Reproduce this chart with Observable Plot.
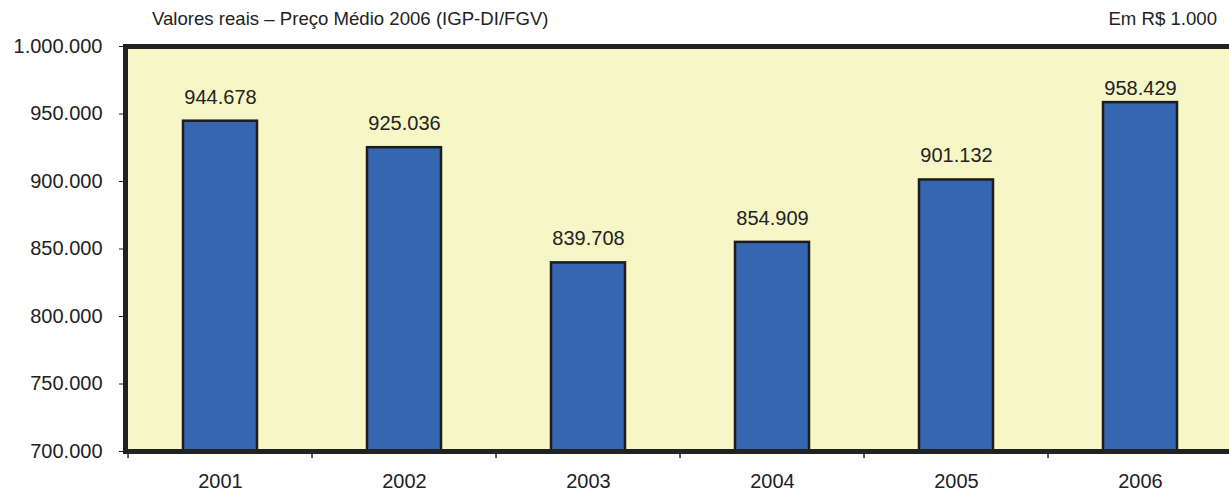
<!DOCTYPE html>
<html>
<head>
<meta charset="utf-8">
<script src="https://cdn.jsdelivr.net/npm/d3@7"></script>
<script src="https://cdn.jsdelivr.net/npm/@observablehq/plot@0.6"></script>
<style>
  html, body { margin: 0; padding: 0; background: #fff; overflow: hidden; }
  #wrap { position: relative; width: 1229px; height: 490px; font-family: "Liberation Sans", Arial, sans-serif; }
  #title { position: absolute; left: 152px; top: 8px; font-size: 18.6px; color: #222; white-space: nowrap; }
  #unit { position: absolute; right: 12px; top: 8px; font-size: 18.6px; color: #222; white-space: nowrap; }
  #chart { position: absolute; left: 0; top: 0; }
</style>
</head>
<body>
<div id="wrap">
  <div id="chart"></div>
  <div id="title">Valores reais – Preço Médio 2006 (IGP-DI/FGV)</div>
  <div id="unit">Em R$ 1.000</div>
</div>
<script>
const years = ["2001", "2002", "2003", "2004", "2005", "2006"];
const values = [944678, 925036, 839708, 854909, 901132, 958429];
const yTicks = [700000, 750000, 800000, 850000, 900000, 950000, 1000000];

const data = years.map((y, i) => ({year: y, value: values[i]}));
const fmt = d => d3.format(",")(d).replace(/,/g, ".");

const W = 1229, H = 490;
const mL = 125, mR = -5.5, mT = 46, mB = 39;
const step = (W - mR - mL) / years.length;
const lastYear = years[years.length - 1];

const chart = Plot.plot({
  width: W,
  height: H,
  marginLeft: mL,
  marginRight: mR,
  marginTop: mT,
  marginBottom: mB,
  style: {fontFamily: "Liberation Sans, Arial, sans-serif", fontSize: "20px", color: "#222", background: "transparent", overflow: "visible"},
  x: {domain: years, paddingInner: 0.6, paddingOuter: 0.3, label: null},
  y: {domain: [700000, 1000000], label: null},
  marks: [
    Plot.frame({fill: "#F7F6C6", stroke: "none"}),
    Plot.barY(data, {x: "year", y1: 700000, y2: "value", fill: "#3766B0", stroke: "#1c1c1c", strokeWidth: 2.5}),
    Plot.text(data, {filter: d => d.year !== lastYear, x: "year", y: "value", text: d => fmt(d.value), dy: -24, fontSize: 20, fill: "#222"}),
    Plot.text(data, {filter: d => d.year === lastYear, x: "year", y: "value", text: d => fmt(d.value), dy: -14, fontSize: 20, fill: "#222"}),
    Plot.frame({stroke: "#222", strokeWidth: 5}),
    Plot.axisY({ticks: yTicks, tickFormat: fmt, tickSize: 6, tickPadding: 17, fontSize: 20, stroke: "#222", label: null}),
    Plot.axisX({tickSize: 0, tickPadding: 22, fontSize: 20, label: null}),
    Plot.ruleX(years, {x: d => d, dx: -step / 2, y1: 700000, y2: 700000, insetTop: 3, insetBottom: -7, stroke: "#222", strokeWidth: 1.5})
  ]
});
document.getElementById("chart").appendChild(chart);
</script>
</body>
</html>
